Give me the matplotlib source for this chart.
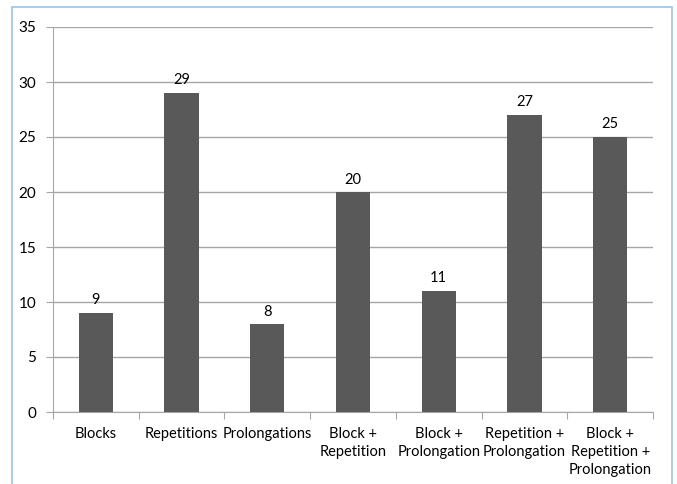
import numpy as np
import matplotlib.pyplot as plt
from matplotlib.patches import Rectangle

categories = ["Blocks", "Repetitions", "Prolongations", "Block +\nRepetition",
              "Block +\nProlongation", "Repetition +\nProlongation",
              "Block +\nRepetition +\nProlongation"]
counts = [9, 29, 8, 20, 11, 27, 25]
y_ticks = [0, 5, 10, 15, 20, 25, 30, 35]

plt.rcParams['font.family'] = ['Lato', 'DejaVu Sans']

fig = plt.figure(figsize=(6.77, 4.84), dpi=100)
ax = fig.add_axes([53 / 677, 1 - 412 / 484, 600 / 677, 385 / 484])

# outer frame
fig.patches.append(Rectangle((12 / 677, -0.1), 660 / 677, 1.1 - 7 / 484,
                             transform=fig.transFigure, fill=False,
                             edgecolor='#9cc2e5', linewidth=1.2))

x = np.arange(len(categories))
ax.bar(x, counts, width=0.4, color='#595959', zorder=3)
for xi, c in zip(x, counts):
    ax.text(xi, c + 0.5, str(c), ha='center', va='bottom', fontsize=10.5)

ax.set_xlim(-0.5, len(categories) - 0.5)
ax.set_ylim(0, 35)
ax.set_yticks(y_ticks)
ax.tick_params(axis='y', labelsize=11, length=5, color='#a6a6a6', pad=7)
ax.set_xticks(np.arange(len(categories) + 1) - 0.5)
ax.set_xticklabels([])
ax.set_xticks(x, minor=True)
ax.set_xticklabels(categories, minor=True, fontsize=10.5, va='top',
                   linespacing=1.35)
ax.tick_params(axis='x', which='major', length=5, color='#a6a6a6')
ax.tick_params(axis='x', which='minor', length=0, pad=11)
ax.grid(axis='y', color='#a6a6a6', linewidth=1, zorder=0)
for s in ['top', 'right']:
    ax.spines[s].set_visible(False)
for s in ['left', 'bottom']:
    ax.spines[s].set_color('#a6a6a6')

fig.savefig('out.png', dpi=100)
